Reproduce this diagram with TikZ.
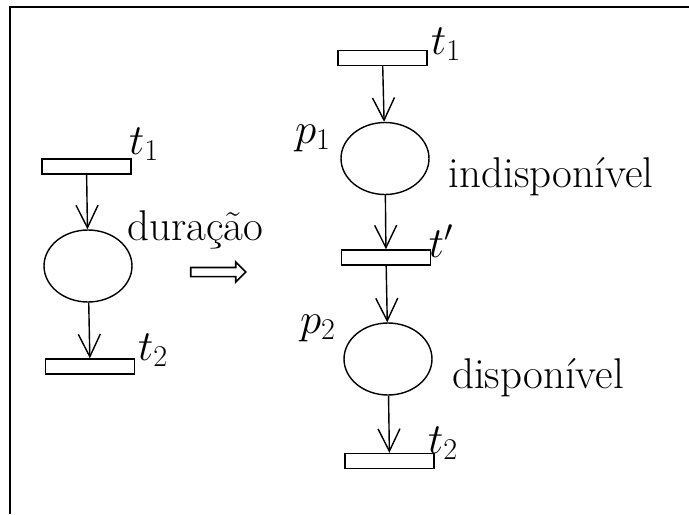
\RequirePackage{fix-cm}
\documentclass[tikz,border=0pt]{standalone}
\usepackage{tikz}
\usetikzlibrary{shapes.geometric, shapes.arrows, arrows.meta, positioning}
\tikzstyle{transition} = [rectangle, draw, line width=0.8pt, minimum width=1.78cm, minimum height=0.3cm, inner sep=0pt]
\tikzstyle{place} = [ellipse, draw, line width=0.8pt, minimum width=1.76cm, minimum height=1.44cm, inner sep=0pt]
\tikzstyle{implies} = [single arrow, draw, line width=0.9pt, text height=0.15cm, text depth=0cm, minimum height=1.1cm, single arrow head extend=0.11cm, inner sep=0pt]
\tikzstyle{arrow} = [line width=0.8pt, ->, >={Straight Barb[length=4.5mm, width=4.4mm]}]
\tikzstyle{frame} = [line width=1pt]

\begin{document}
\begin{tikzpicture}[x=0.02cm, y=-0.02cm, every node/.style={font=\fontsize{24.5}{29}\selectfont}]
    \useasboundingbox (0,0) rectangle (689,514);
    \draw[frame] (689,7) -- (10,7) -- (10,514);

    % left net
    \node[transition] (lt1) at (86.5,166.5) {};
    \node[place] (lp) at (88,266) {};
    \node[transition] (lt2) at (90,366.5) {};
    \node (lt1lbl) at (144,144) {$t_1$};
    \node[anchor=base] (dur) at (195,240) {duração};
    \node (lt2lbl) at (153,350) {$t_2$};

    \node[implies] (imp) at (216,272) {};

    % right net
    \node[transition] (rt1) at (382.5,58) {};
    \node[place] (p1) at (385,158.5) {};
    \node[transition] (tp) at (386,257.5) {};
    \node[place] (p2) at (388,359) {};
    \node[transition] (rt2) at (389.5,461) {};
    \node (rt1lbl) at (446,44) {$t_1$};
    \node (p1lbl) at (313,138) {$p_1$};
    \node[anchor=base] (indisp) at (551,187) {indisponível};
    \node (tplbl) at (441,241) {$t'$};
    \node (p2lbl) at (318,328) {$p_2$};
    \node[anchor=base] (disp) at (538,388) {disponível};
    \node (rt2lbl) at (443,443) {$t_2$};

    \draw[arrow] (lt1) -- (lp);
    \draw[arrow] (lp) -- (lt2);
    \draw[arrow] (rt1) -- (p1);
    \draw[arrow] (p1) -- (tp);
    \draw[arrow] (tp) -- (p2);
    \draw[arrow] (p2) -- (rt2);
\end{tikzpicture}
\end{document}
